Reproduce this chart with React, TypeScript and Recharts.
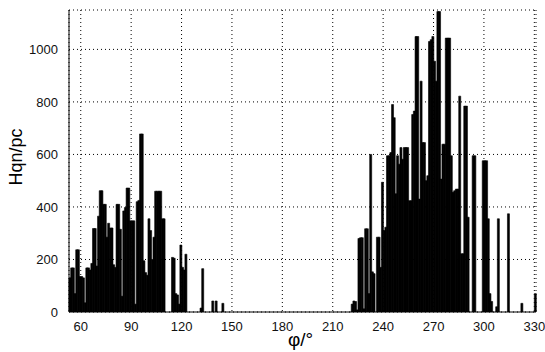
import { BarChart, Bar, XAxis, YAxis, CartesianGrid } from 'recharts';

// one-degree bins, first bin starts at 53°
const firstBin = 53;
const counts = [
  130, 168, 168, 70, 237, 237, 135, 135, 130, 35,
  168, 168, 160, 185, 318, 318, 175, 365, 462, 462,
  410, 410, 285, 338, 320, 320, 180, 170, 410, 410,
  315, 60, 385, 398, 472, 472, 347, 347, 347, 30,
  420, 425, 678, 678, 195, 150, 140, 355, 310, 200,
  285, 460, 460, 460, 460, 355, 355, 0, 0, 0,
  0, 208, 205, 70, 65, 30, 255, 170, 160, 220,
  0, 0, 0, 0, 0, 0, 0, 0, 15, 165,
  0, 0, 0, 0, 0, 42, 0, 42, 0, 0,
  0, 33, 0, 0, 0, 0, 0, 0, 0, 0,
  0, 0, 0, 0, 0, 0, 0, 0, 0, 0,
  0, 0, 0, 0, 0, 0, 0, 0, 0, 0,
  0, 0, 0, 0, 0, 0, 0, 0, 0, 0,
  0, 0, 0, 0, 0, 0, 0, 0, 0, 0,
  0, 0, 0, 0, 0, 0, 0, 0, 0, 0,
  0, 0, 0, 0, 0, 0, 0, 0, 0, 0,
  0, 0, 0, 0, 0, 0, 0, 0, 30, 42,
  40, 8, 280, 283, 283, 12, 317, 317, 70, 600,
  153, 146, 0, 285, 285, 170, 494, 310, 323, 595,
  595, 607, 790, 740, 450, 595, 563, 626, 582, 626,
  626, 626, 424, 424, 752, 765, 1049, 1049, 430, 879,
  645, 645, 500, 519, 1030, 1037, 1049, 955, 879, 1144,
  1144, 506, 639, 639, 1043, 1043, 1043, 595, 456, 462,
  468, 468, 822, 222, 222, 784, 784, 361, 0, 0,
  595, 595, 0, 0, 0, 0, 576, 576, 576, 355,
  70, 40, 0, 0, 20, 355, 0, 0, 0, 0,
  0, 374, 0, 0, 0, 0, 0, 0, 0, 33,
  0, 0, 0, 0, 0, 0, 0, 70,
];
const xTicks = [60, 90, 120, 150, 180, 210, 240, 270, 300, 330];
const yTicks = [0, 200, 400, 600, 800, 1000];
const xTitle = 'φ/°';
const yTitle = 'Hqn/pc';

const data = counts.map((n, i) => ({ angle: firstBin + i + 0.5, n }));

const font = '"Liberation Sans", Arial, sans-serif';

function YTitle({ viewBox }: any) {
  const cx = viewBox.x + 16;
  const cy = viewBox.y + viewBox.height / 2 - 4;
  return (
    <text
      x={cx}
      y={cy}
      transform={`rotate(-90 ${cx} ${cy})`}
      textAnchor="middle"
      dominantBaseline="central"
      fontFamily={font}
      fontSize={18}
      fill="#000"
    >
      {yTitle}
    </text>
  );
}

function XTitle({ viewBox }: any) {
  return (
    <text
      x={viewBox.x + viewBox.width / 2 - 2}
      y={viewBox.y + 34}
      textAnchor="middle"
      fontFamily={font}
      fontSize={19}
      fill="#000"
    >
      {xTitle}
    </text>
  );
}

export default function App() {
  return (
    <div style={{ position: 'absolute', left: 0, top: 0, background: '#fff' }}>
      <BarChart
        width={545}
        height={352}
        data={data}
        margin={{ top: 10, right: 9, bottom: 0, left: 0 }}
        barCategoryGap={0}
        barGap={0}
      >
        <CartesianGrid stroke="#000" strokeDasharray="1 3" />
        <XAxis
          dataKey="angle"
          type="number"
          domain={[53, 331]}
          ticks={xTicks}
          interval={0}
          height={40}
          tickLine={false}
          tickMargin={4}
          axisLine={{ stroke: '#000' }}
          tick={{ fill: '#111', fontSize: 13, fontFamily: font }}
          label={{ content: XTitle }}
        />
        <YAxis
          type="number"
          domain={[0, 1150]}
          ticks={yTicks}
          interval={0}
          width={69}
          allowDataOverflow
          tickLine={false}
          tickMargin={5}
          axisLine={{ stroke: '#000' }}
          tick={{ fill: '#111', fontSize: 13, fontFamily: font }}
          label={{ content: YTitle }}
        />
        <Bar
          dataKey="n"
          fill="#000"
          stroke="#000"
          strokeWidth={0.6}
          isAnimationActive={false}
        />
      </BarChart>
    </div>
  );
}
